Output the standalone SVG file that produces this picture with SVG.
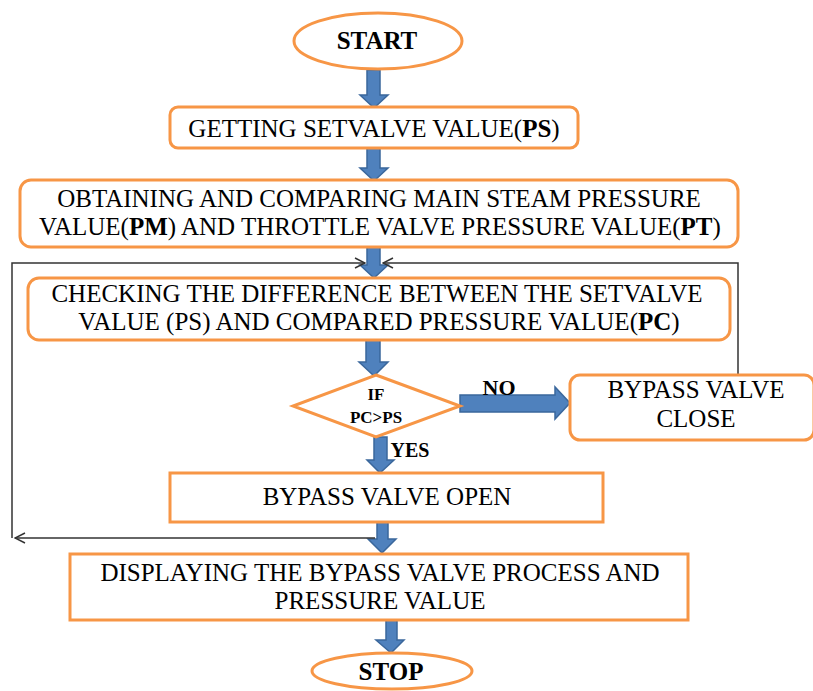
<svg xmlns="http://www.w3.org/2000/svg" width="813" height="691" viewBox="0 0 813 691">
<defs>
<style>
.box{fill:#fff;stroke:#f79646;stroke-width:3}
.t{font-family:"Liberation Serif","Times New Roman",serif;font-size:25px;fill:#000;text-anchor:middle}
.b{font-weight:bold}
.blk{fill:#4f81bd;stroke:#3a679c;stroke-width:1.5}
.fb{fill:none;stroke:#333;stroke-width:1.5}
</style>
<marker id="oa" viewBox="0 0 12 12" refX="11" refY="6" markerWidth="12" markerHeight="12" markerUnits="userSpaceOnUse" orient="auto">
<path d="M1,1 L11,6 L1,11" fill="none" stroke="#333" stroke-width="1.5"/>
</marker>
</defs>
<rect width="813" height="691" fill="#fff"/>

<g id="connectors">
<path class="blk" d="M367,70 H380 V95 H388 L374,108 L360,95 H367 Z"/>
<path class="blk" d="M367,148 H380 V168 H388 L374,181 L360,168 H367 Z"/>
<path class="blk" d="M367,247 H380 V265 H388 L374,278 L360,265 H367 Z"/>
<path class="blk" d="M366,340 H380 V362 H388 L374,376 L359,362 H366 Z"/>
<path class="blk" d="M460,395 H555 V387 L570,403 L555,419 V412 H460 Z"/>
<path class="blk" d="M374,437 H387 V460 H394 L380,473 L367,460 H374 Z"/>
<path class="blk" d="M377,522 H388 V539 H396 L382,553 L368,539 H377 Z"/>
<path class="blk" d="M386,620 H397 V640 H404 L391,653 L376,640 H386 Z"/>
<polyline class="fb" points="12,538 12,263 365,263" marker-end="url(#oa)"/>
<polyline class="fb" points="375,538 15,538" marker-end="url(#oa)"/>
<polyline class="fb" points="738,376 738,263 383,263" marker-end="url(#oa)"/>
</g>

<g id="start">
<ellipse class="box" cx="378" cy="41" rx="84" ry="28"/>
<text class="t b" x="377" y="49">START</text>
</g>

<g id="getting">
<rect class="box" x="170" y="107" width="408" height="41" rx="8"/>
<text class="t" x="374" y="137">GETTING SETVALVE VALUE(<tspan class="b">PS</tspan>)</text>
</g>

<g id="obtaining">
<rect class="box" x="20" y="180" width="718" height="67" rx="11"/>
<text class="t" x="379" y="207">OBTAINING  AND COMPARING MAIN STEAM PRESSURE</text>
<text class="t" x="380" y="235">VALUE(<tspan class="b">PM</tspan>) AND THROTTLE VALVE PRESSURE VALUE(<tspan class="b">PT</tspan>)</text>
</g>

<g id="checking">
<rect class="box" x="28" y="278" width="702" height="62" rx="11"/>
<text class="t" x="377" y="302">CHECKING THE DIFFERENCE BETWEEN THE SETVALVE</text>
<text class="t" x="379" y="330">VALUE (PS) AND COMPARED PRESSURE VALUE(<tspan class="b">PC</tspan>)</text>
</g>

<g id="decision">
<polygon class="box" points="376,375 460,406 376,437 293,406"/>
<text class="t b" x="376" y="400" style="font-size:17px">IF</text>
<text class="t b" x="376" y="423" style="font-size:17px">PC&gt;PS</text>
</g>

<g id="labels">
<text class="t b" x="499" y="395" style="font-size:22px">NO</text>
<text class="t b" x="410" y="457" style="font-size:20px">YES</text>
</g>

<g id="close">
<rect class="box" x="570" y="375" width="244" height="65" rx="10"/>
<text class="t" x="696" y="398">BYPASS VALVE</text>
<text class="t" x="696" y="427">CLOSE</text>
</g>

<g id="open">
<rect class="box" x="170" y="473" width="433" height="49"/>
<text class="t" x="387" y="505">BYPASS VALVE OPEN</text>
</g>

<g id="display">
<rect class="box" x="70" y="554" width="618" height="66"/>
<text class="t" x="380" y="581">DISPLAYING THE BYPASS VALVE PROCESS AND</text>
<text class="t" x="380" y="609">PRESSURE VALUE</text>
</g>

<g id="stop">
<ellipse class="box" cx="392" cy="671" rx="80" ry="18"/>
<text class="t b" x="391" y="680">STOP</text>
</g>
</svg>
